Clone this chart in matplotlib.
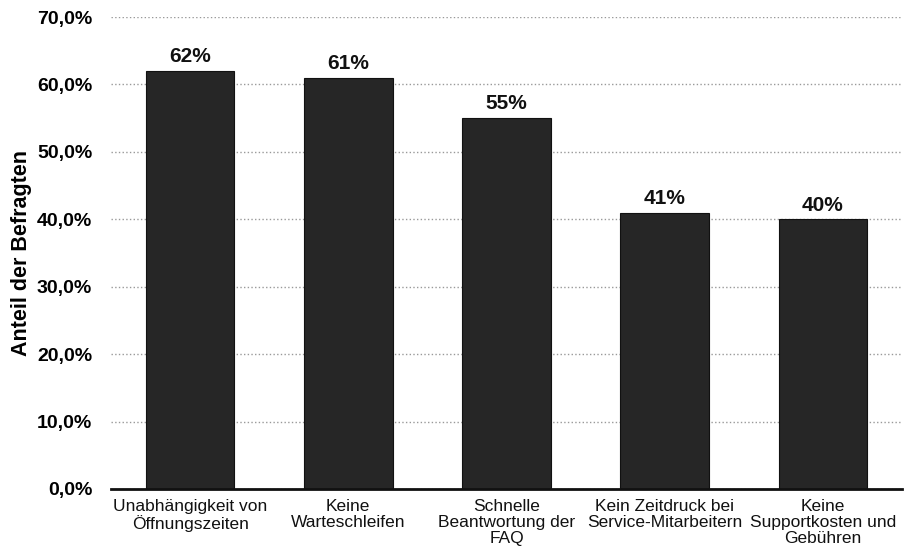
import matplotlib.pyplot as plt
from matplotlib.ticker import FuncFormatter

plt.rcParams['font.family'] = ['Liberation Sans', 'DejaVu Sans']

# Data
categories = [
    'Unabhängigkeit von\nÖffnungszeiten',
    'Keine\nWarteschleifen',
    'Schnelle\nBeantwortung der\nFAQ',
    'Kein Zeitdruck bei\nService-Mitarbeitern',
    'Keine\nSupportkosten und\nGebühren',
]
values = [0.62, 0.61, 0.55, 0.41, 0.40]
yticks = [0.0, 0.1, 0.2, 0.3, 0.4, 0.5, 0.6, 0.7]

fig = plt.figure(figsize=(9.06, 5.6), dpi=100)
ax = fig.add_axes([0.1225, 0.1268, 0.873, 0.8428])

x = range(len(categories))
bars = ax.bar(x, values, width=0.56, color='#262626', edgecolor='#111111',
              linewidth=0.8, zorder=3)

for xi, v in zip(x, values):
    ax.text(xi, v + 0.007, f'{round(v * 100)}%', ha='center', va='bottom',
            fontsize=15, fontweight='bold', color='#111111')

ax.set_xlim(-0.5, len(categories) - 0.5)
ax.set_ylim(0, 0.7)
ax.set_yticks(yticks)
ax.yaxis.set_major_formatter(FuncFormatter(lambda v, p: f'{v * 100:.1f}%'.replace('.', ',')))
ax.grid(axis='y', linestyle=':', color='#999999', linewidth=1, zorder=0)

for s in ['top', 'right', 'left']:
    ax.spines[s].set_visible(False)
ax.spines['bottom'].set_linewidth(2)
ax.spines['bottom'].set_color('#111111')
ax.spines['bottom'].set_zorder(4)

ax.set_xticks(list(x))
ax.set_xticklabels(categories, fontsize=12.5, color='#111111', linespacing=1.1)
ax.tick_params(axis='x', length=0, pad=7)
ax.tick_params(axis='y', length=0, pad=13.5, labelsize=14)
for lbl in ax.get_yticklabels():
    lbl.set_fontweight('bold')

ax.set_ylabel('Anteil der Befragten', fontsize=15.5, fontweight='bold')
ax.yaxis.set_label_coords(-0.1, 0.5)

fig.savefig('out.png', dpi=100)
